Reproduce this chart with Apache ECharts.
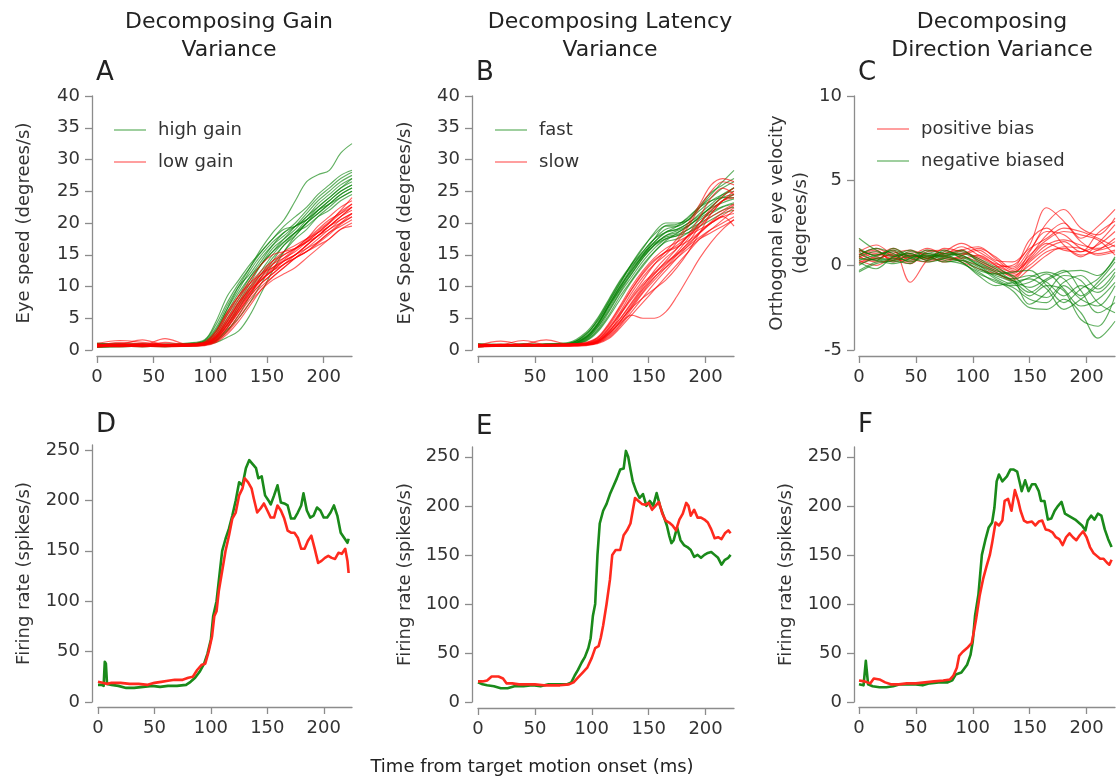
<!DOCTYPE html>
<html><head><meta charset="utf-8">
<script src="https://cdn.jsdelivr.net/npm/echarts@6/dist/echarts.min.js"></script>
<style>html,body{margin:0;padding:0;background:#fff}#c{width:1116px;height:779px}</style>
</head><body><div id="c"></div>
<script>
// ---------- time grids (ms) ----------
const T_AB = [0,20,40,60,80,95,105,115,125,135,145,155,165,175,185,195,205,215,225];
const T_C = [0,15,30,45,60,75,90,105,120,135,150,165,180,195,210,225];

// ---------- Panel A: eye speed, gain variance ----------
const A_high = [
 [0.8,0.9,0.7,0.8,0.9,1.2,3,6.5,10,13,16,18.5,20.5,23.5,26.5,27.6,28.3,31,32.5],
 [0.6,0.7,0.8,0.6,0.8,1.5,4,7.5,10.5,13,15.5,17.5,19.5,21,22.5,24.5,26,27.5,28.3],
 [1.0,0.9,0.8,0.9,1.0,1.3,3.2,6.5,9.5,12.5,15,17,18.5,20,22,24,25.5,27,28],
 [0.5,0.6,0.7,0.7,0.8,1.1,2.5,5.5,8.5,11.5,14,16.5,18.5,19.5,21,23,24.5,26,27],
 [0.7,0.8,0.6,0.8,0.9,1.0,2.0,4.5,7.5,10.5,13.5,16,17.5,19,21,22.5,24,25.5,26.5],
 [0.9,1.0,0.9,0.8,1.0,1.4,3.5,7,10,12,14.5,16.5,18,19.5,20.5,22,23.5,25,26],
 [0.4,0.5,0.6,0.5,0.7,0.9,1.8,4,7,10,12.5,15,17,18.5,20,21.5,23,24.5,25.5],
 [0.8,0.7,0.8,0.9,0.8,1.0,1.5,3.5,6.5,9.5,12,14.5,16.5,18.5,20.5,22.5,24,25.5,27],
 [0.6,0.8,0.7,0.6,0.7,0.9,1.4,3,5.5,8.5,11.5,14,16.5,18,20,22,23.5,25,26],
 [1.1,0.9,1.0,0.9,1.1,1.6,4.5,8.5,11,13.5,15.5,17.5,19,19.5,20.5,22,23,24,25],
 [0.5,0.6,0.5,0.7,0.6,0.8,1.2,2,3,5.5,9,12.5,15.5,18,20,21.5,23,24.5,25.5],
 [0.7,0.6,0.7,0.8,0.9,1.2,2.8,6,9,11.5,13.5,15.5,17,18.5,19.5,21,22,23.5,24.5],
 [0.9,0.8,0.9,0.7,0.8,1.1,2.2,5,8,11,13.5,15.5,17.5,19.5,21.5,23.5,25,26.5,27.5],
 [0.6,0.7,0.6,0.7,0.8,1.0,1.6,3.2,5,7.5,10.5,13.5,15.5,17.5,19,21,22.5,24,25]
];
const A_low = [
 [0.6,1.2,0.9,0.7,0.8,1.0,2.2,4.5,7.5,10,12,13.5,14.5,15.5,17,18.5,20,22,24],
 [0.8,0.9,1.6,0.8,0.7,0.9,1.8,4,6.5,9,11,12.5,14,15,16.5,18,19.5,21,22.5],
 [0.5,0.6,0.7,1.8,0.9,1.1,2.5,5.5,8,10.5,12.5,14,15,16,17,18.5,20,21.5,23],
 [0.7,0.8,0.6,0.7,0.6,0.8,1.5,3.5,6,8.5,10.5,12,13.5,14.5,15.5,17,18.5,20,21.5],
 [0.9,1.0,0.8,0.9,1.0,1.3,3,6,8.5,10.5,12,13,14,15,16.5,18,19.5,20.5,21.5],
 [0.6,0.7,0.8,0.6,0.7,0.9,1.4,3,5.5,8,10,11.5,13,14.5,16,17.5,19,20,21],
 [1.0,1.5,1.2,0.9,0.8,1.0,2,4.5,7,9.5,11.5,13,14.5,16,17.5,19,20.5,21.5,22.5],
 [0.5,0.6,0.5,0.7,0.6,0.7,1.2,2.5,4.5,7,9.5,11.5,13,14.5,15.5,16.5,17.5,19,20],
 [0.8,0.7,0.9,0.8,0.9,1.1,2.4,5,7.5,9.5,11,12.5,14,15,16,17,18.5,19.5,20.5],
 [0.7,0.8,0.7,1.2,0.8,1.0,1.9,4,6.5,9,11.5,13.5,15,16,17.5,19.5,21,22.5,23.5],
 [0.6,0.5,0.6,0.6,0.7,0.8,1.3,2.8,5,7.5,9.5,11,12,13,14.5,16,17.5,19,19.5],
 [0.9,0.8,1.0,0.9,0.8,1.2,2.8,5.8,8.5,11,13.5,15,15.5,16,17,18,19.5,21,22],
 [0.5,0.7,0.6,0.5,0.6,0.8,1.6,3.5,6,8.5,10.5,12,13.5,15,16.5,18,19,20.5,21.5],
 [0.8,0.9,0.8,0.7,0.9,1.0,2.1,4.8,7.2,9.8,12,14,15.5,16.5,17.5,18.5,19.5,21,22.5],
 [0.6,0.8,0.9,0.8,0.7,0.9,1.7,3.8,6.2,8.8,11,12.8,14.2,15.8,17.2,18.8,20.2,21.8,23],
 [0.7,0.6,0.8,0.7,0.8,1.0,2.0,4.2,6.8,9.2,11.2,12.5,13.5,14.5,15.5,16.8,18.2,19.8,21]
];

// ---------- Panel B: eye speed, latency variance ----------
const B_fast = [
 [0.7,0.8,0.6,0.9,1.0,2.5,4.5,7.5,10.5,13.5,16,18.5,20,20,20.5,22.5,24.5,26.5,28.3],
 [0.5,0.7,0.8,0.7,0.9,2.0,4,7,10,12.5,15,17.5,19.5,19.5,20.5,22,23.5,24.5,25],
 [0.9,0.8,0.9,1.0,1.2,2.8,5,8,11,13.5,15.5,17.5,18.5,19,20,21.5,23,24.5,25.5],
 [0.6,0.6,0.7,0.8,0.9,1.8,3.5,6.5,9.5,12,14.5,16.5,18,18.5,19.5,21,22.5,24,24.5],
 [0.8,0.9,0.8,0.7,1.0,2.2,4.2,7.2,10.2,13,15.5,17.5,19,19.5,20.5,22.5,24,25.5,26.5],
 [0.7,0.6,0.9,0.8,0.8,1.6,3.2,6,9,11.5,14,16,17.5,18,19,20.5,21.5,22.5,23],
 [1.0,0.8,0.7,0.9,1.1,2.4,4.8,7.8,10.8,13.2,15.2,16.8,17.8,18.2,19,20,21,22,22.5],
 [0.5,0.7,0.6,0.7,0.8,1.5,3,5.5,8.5,11,13.5,15.5,17,17.5,18.5,20,22,23.5,24.5],
 [0.8,0.7,0.8,0.9,0.9,2,3.8,6.8,9.8,12.8,15,17,18.5,19.5,21,22.5,23.5,24,24],
 [0.6,0.8,0.7,0.6,0.8,1.7,3.6,6.2,9.2,12,14.5,16.5,17.5,18,18.5,19.5,20.5,21.5,22],
 [0.9,0.9,1.0,0.8,1.0,2.6,4.6,7.6,10.6,13.6,16.2,18.2,19.6,19.8,20.8,22.8,24.8,26,27],
 [0.7,0.6,0.7,0.8,0.9,1.9,3.9,6.9,9.6,12.3,14.8,17,18.6,19,20,21.2,22.4,23.2,23.8],
 [0.6,0.7,0.8,0.7,0.8,1.4,2.8,5.2,8,10.8,13.2,15.4,17.2,18.4,19.6,21,22.6,24.2,25.6],
 [0.8,0.8,0.6,0.9,1.0,2.1,4.1,7.1,10,12.6,14.8,16.6,18,18.8,19.6,20.8,21.8,22.6,23.2]
];
const B_slow = [
 [0.6,0.8,1.5,0.8,0.7,0.9,1.3,2.8,5.5,8.5,11,13.5,15.5,17.5,20,23,26,27,26.5],
 [0.8,0.7,0.9,1.6,0.9,1.0,1.6,3.5,6,9,11.5,13.5,15,17,19.5,22.5,25,26.5,26],
 [0.5,0.6,0.7,0.6,0.7,0.8,1.1,2.2,4,6.5,9,11,13,15,17,19.5,21.5,23.5,25],
 [0.7,1.4,0.8,0.7,0.8,0.9,1.4,3,5,7.5,10,12.5,14.5,16,18,20,22,23.5,24],
 [0.9,0.8,0.9,0.9,1.0,1.1,1.8,3.8,6.5,9.5,12,14,15.5,16.5,18,19.5,21,22,23],
 [0.6,0.7,0.6,0.8,0.6,0.7,1.0,1.8,3.5,5.5,7.5,9.5,11.5,13.5,15.5,17.5,19,20.5,22],
 [0.8,0.9,0.8,0.7,0.9,1.0,1.5,3.2,5.8,8.2,10.5,12.2,13.8,15.2,16.8,18.4,20,21.2,22.4],
 [0.5,0.6,0.8,0.6,0.7,0.8,1.2,2.5,4.5,7,9.5,11.5,13,14.5,16,17.5,18.5,19.5,20.5],
 [0.7,0.8,0.7,0.9,0.8,0.9,1.3,2.6,4.2,5.5,5,5,6,8.5,11.5,14.5,17,19,20.5],
 [0.9,0.7,0.9,0.8,0.9,1.2,2,4.2,7,10,12.5,14.5,16,17,18,19,20,21,21.5],
 [0.6,0.7,0.6,0.7,0.6,0.8,1.2,2.4,4.4,6.8,9.2,11.4,13.4,15.4,17.6,20,22.4,24.2,25.5],
 [0.8,0.6,0.8,0.8,0.8,1.0,1.6,3.4,5.6,8,10.2,12,13.6,15,16.4,17.8,19,20,21],
 [0.7,0.9,0.7,0.6,0.7,0.9,1.4,2.9,4.9,7.3,9.7,11.9,14,16,18.2,21,24,25.5,24.5],
 [0.5,0.7,0.8,0.7,0.8,0.8,1.1,2,3.8,6,8.3,10.5,12.5,14.5,16.5,18.5,20,21,19.5],
 [0.9,0.8,0.7,0.8,0.9,1.1,1.9,4,6.8,9.6,12.2,14.2,15.4,16.2,17.2,18.6,20.2,21.6,22.8],
 [0.6,0.8,0.9,0.7,0.8,0.9,1.3,2.7,4.6,6.6,8.2,9.6,11,13,15.5,18.5,21.5,23.5,24.5]
];

// ---------- Panel C: orthogonal eye velocity ----------
const C_pos = [
 [0.5,0.8,0.3,0.6,0.4,0.7,0.9,0.3,-0.2,-0.5,0.8,2.5,3.3,2.2,1.8,2.8],
 [0.8,1.2,0.6,0.2,0.7,0.5,0.4,0.6,0.0,-0.7,0.5,1.8,2.5,1.6,2.3,3.3],
 [0.2,0.5,0.9,-1.0,0.3,0.8,1.3,0.8,0.2,-0.4,0.3,1.2,1.5,1.2,1.0,1.4],
 [1.0,0.4,0.7,0.9,0.5,0.3,0.6,1.0,0.5,-0.2,0.9,2.0,1.8,1.0,0.7,0.9],
 [0.6,0.9,0.2,0.5,1.0,0.6,0.2,-0.2,-0.5,-0.8,0.2,1.0,1.4,0.8,1.2,2.0],
 [0.3,0.0,0.5,0.7,0.4,1.0,0.8,0.4,-0.1,0.0,1.2,3.4,2.6,1.4,0.9,1.2],
 [0.9,0.6,1.0,0.4,0.2,0.5,0.9,1.1,0.4,-0.3,0.6,1.5,2.0,1.8,1.5,0.6],
 [0.4,0.7,0.4,0.8,0.6,0.2,0.5,0.2,-0.3,-0.6,0.0,0.8,1.0,0.6,0.9,1.6],
 [0.7,0.3,0.8,0.3,0.9,0.7,1.1,0.6,0.1,-0.1,1.5,2.2,1.2,0.5,1.3,2.4],
 [0.1,0.4,0.6,0.6,0.3,0.4,0.3,0.0,-0.4,-0.9,-0.2,0.6,1.1,1.0,0.6,0.8],
 [0.6,1.0,0.5,0.1,0.8,0.9,0.6,0.9,0.3,0.2,1.0,1.6,2.2,2.0,1.6,1.1],
 [0.5,0.2,0.3,0.5,0.5,0.6,0.7,0.5,0.0,-0.4,0.4,1.3,0.9,0.8,1.9,2.6]
];
const C_neg = [
 [1.6,0.9,0.5,0.7,0.3,0.6,0.2,-0.5,-0.9,-1.5,-2.5,-2.6,-2.0,-2.8,-4.3,-3.3],
 [0.3,0.6,0.8,0.4,0.7,0.5,0.3,-0.2,-0.6,-1.0,-1.8,-1.2,-1.5,-3.2,-3.6,-1.8],
 [0.0,0.4,0.2,0.6,0.5,0.8,0.6,0.1,-0.4,-0.9,-1.3,-0.8,-0.3,-1.5,-2.8,-2.2],
 [0.8,0.3,1.0,0.5,0.2,0.4,0.7,0.3,-0.2,-0.8,-0.6,-1.0,-1.8,-1.2,-1.6,-0.6],
 [-0.3,0.2,0.4,0.3,0.6,0.3,0.1,-0.4,-1.0,-1.3,-2.0,-2.2,-1.2,-2.0,-2.4,-1.2],
 [0.5,0.8,0.6,0.9,0.4,0.7,0.5,0.0,-0.7,-1.1,-0.7,-0.4,-0.8,-1.8,-1.0,0.2],
 [1.0,0.5,0.3,0.1,0.8,0.6,0.9,0.2,-0.3,-0.6,-1.5,-1.9,-1.0,-0.6,-1.4,-0.4],
 [0.2,-0.2,0.5,0.7,0.3,0.9,0.4,-0.1,-0.8,-1.2,-1.0,-0.5,-1.4,-2.4,-2.0,-1.0],
 [0.6,1.0,0.7,0.2,0.5,0.2,0.3,-0.3,-0.5,-0.4,-0.3,-1.2,-2.2,-1.4,-0.8,0.4],
 [-0.4,0.1,0.3,0.8,0.7,0.5,0.8,0.4,-0.1,-0.7,-2.3,-1.6,-0.6,-0.9,-2.2,-2.8],
 [0.9,0.6,0.9,0.5,0.6,0.4,0.2,-0.6,-1.2,-1.0,-0.8,-1.4,-2.6,-2.0,-1.2,-0.2],
 [0.4,0.3,0.1,0.4,0.9,0.7,0.6,0.0,-0.5,-0.9,-1.6,-0.9,-0.4,-0.3,-0.6,0.5]
];

// ---------- Panels D-F: firing rate [time ms, spikes/s] ----------
const D_green = [[0,17],[3,17],[5,16],[6,40],[7,38],[8,18],[12,17],[18,16],[25,14],[32,14],[40,15],[48,16],[55,15],[62,16],[70,16],[78,17],[82,20],[86,24],[90,30],[94,38],[97,48],[100,62],[102,85],[105,100],[108,130],[110,150],[113,162],[116,172],[119,185],[122,200],[125,218],[128,215],[131,232],[134,240],[137,236],[140,232],[142,222],[145,224],[148,205],[151,200],[153,196],[156,205],[159,215],[162,198],[165,197],[168,195],[171,182],[174,182],[177,188],[180,195],[182,207],[185,190],[188,183],[191,185],[194,193],[197,190],[200,183],[203,183],[206,188],[209,195],[212,185],[215,168],[218,163],[221,158],[222,162]];
const D_red = [[0,20],[4,19],[8,18],[12,19],[20,19],[28,18],[36,18],[44,17],[50,19],[56,20],[62,21],[68,22],[75,22],[80,24],[84,25],[88,32],[92,37],[95,38],[98,50],[101,65],[103,85],[105,90],[107,110],[110,130],[113,150],[116,165],[119,182],[122,188],[125,205],[128,212],[130,222],[133,218],[136,212],[138,202],[141,188],[144,192],[147,197],[150,190],[153,183],[156,183],[159,195],[162,190],[165,182],[168,170],[171,168],[174,168],[177,163],[180,152],[183,152],[186,160],[189,165],[192,152],[195,138],[198,140],[201,143],[204,145],[207,143],[210,142],[213,148],[216,147],[219,152],[221,140],[222,128]];
const E_green = [[0,20],[4,18],[8,17],[14,16],[20,14],[26,14],[32,16],[40,16],[48,17],[55,16],[62,18],[70,18],[78,18],[82,20],[85,27],[88,33],[91,40],[94,46],[97,55],[99,65],[101,88],[103,100],[105,150],[107,182],[110,195],[113,202],[116,212],[119,220],[122,228],[125,237],[128,238],[130,256],[132,250],[134,237],[136,225],[139,215],[142,208],[145,212],[148,200],[151,205],[154,200],[157,213],[160,200],[163,190],[166,180],[168,170],[170,162],[172,165],[175,178],[178,165],[181,160],[184,158],[187,155],[190,148],[193,150],[196,147],[199,150],[202,152],[205,153],[208,150],[211,147],[214,140],[217,145],[220,147],[222,150]];
const E_red = [[0,21],[4,21],[8,22],[12,26],[18,26],[22,24],[25,19],[30,19],[36,18],[42,18],[50,18],[58,17],[65,17],[72,17],[80,18],[84,20],[88,25],[92,30],[96,35],[100,45],[103,55],[106,57],[108,66],[110,78],[113,100],[116,125],[118,150],[121,155],[125,155],[128,170],[131,175],[134,182],[136,195],[138,208],[141,205],[144,202],[147,201],[150,203],[153,196],[156,200],[159,204],[162,192],[165,185],[168,183],[171,180],[174,175],[177,186],[180,192],[183,203],[185,200],[187,190],[190,196],[193,188],[196,188],[199,186],[202,183],[205,176],[208,167],[211,168],[214,166],[217,172],[220,175],[222,172]];
const F_green = [[0,18],[4,17],[6,42],[7,40],[8,18],[12,16],[18,15],[24,15],[30,16],[36,18],[44,18],[50,18],[56,17],[62,19],[70,20],[78,20],[82,22],[85,28],[90,30],[95,38],[98,48],[100,62],[102,88],[105,110],[108,150],[111,165],[114,178],[117,183],[119,198],[121,225],[123,232],[126,225],[130,230],[133,237],[136,237],[139,235],[141,225],[143,215],[146,226],[149,215],[152,222],[155,222],[158,215],[160,205],[163,205],[166,186],[169,187],[172,195],[175,200],[178,204],[181,192],[184,190],[187,188],[190,186],[193,183],[196,180],[199,175],[201,185],[204,190],[207,186],[210,192],[213,190],[216,176],[219,166],[222,158]];
const F_red = [[0,22],[5,21],[10,19],[13,24],[18,23],[23,20],[28,18],[35,18],[42,19],[50,19],[58,20],[66,21],[74,22],[80,23],[83,27],[86,35],[88,47],[91,51],[95,55],[99,60],[101,72],[103,85],[106,108],[109,125],[112,138],[115,150],[117,162],[120,183],[123,180],[126,185],[128,205],[131,207],[134,195],[137,216],[140,205],[142,195],[145,185],[148,183],[152,184],[155,180],[158,184],[161,185],[164,176],[167,175],[170,173],[173,168],[176,166],[179,160],[182,168],[185,172],[188,168],[191,165],[194,170],[197,174],[200,168],[203,158],[206,152],[209,149],[212,146],[215,146],[218,142],[220,140],[222,145]];

// ---------- tick labels ----------
const X_TICKS = [0,50,100,150,200];
const X_TICKS_B = [50,100,150,200];
const Y_SPEED = [0,5,10,15,20,25,30,35,40];
const Y_ORTH = [-5,0,5,10];
const Y_RATE = [0,50,100,150,200,250];

// ---------- styling / layout ----------
const FF = 'DejaVu Sans';
const AX = '#8c8c8c';
const TXT = '#333';
const G_TR = 'rgba(0,128,0,0.62)', R_TR = 'rgba(255,0,0,0.62)';
const G_LG = 'rgba(0,128,0,0.5)', R_LG = 'rgba(255,0,0,0.5)';
const G_TH = '#1a8a1a', R_TH = '#ff2a1e';

const grids = [
  {left:97, top:96, width:255, height:254},
  {left:478, top:96, width:256, height:254},
  {left:859, top:96, width:256, height:254},
  {left:98, top:445, width:254, height:257},
  {left:478, top:447, width:256, height:255},
  {left:859, top:447, width:256, height:255}
];

function xAx(gi, labels, offset){
  return {type:'value', gridIndex:gi, min:0, max:225, interval:50, offset:offset,
    axisLine:{show:true, onZero:false, lineStyle:{color:AX, width:1.3}},
    axisTick:{show:true, length:7, customValues:X_TICKS, lineStyle:{color:AX, width:1.3}},
    axisLabel:{customValues:labels, margin:12, fontSize:18, color:TXT, fontFamily:FF},
    splitLine:{show:false}};
}
function yAx(gi, min, max, interval, ticks, offset, name, gap){
  return {type:'value', gridIndex:gi, min:min, max:max, interval:interval, offset:offset,
    name:name, nameLocation:'middle', nameGap:gap, nameRotate:90,
    nameTextStyle:{fontSize:18, color:TXT, fontFamily:FF, lineHeight:24},
    axisLine:{show:true, onZero:false, lineStyle:{color:AX, width:1.3}},
    axisTick:{show:true, length:7, customValues:ticks, lineStyle:{color:AX, width:1.3}},
    axisLabel:{customValues:ticks, margin:12, fontSize:18, color:TXT, fontFamily:FF},
    splitLine:{show:false}};
}

const xAxes = [xAx(0,X_TICKS,6), xAx(1,X_TICKS_B,6), xAx(2,X_TICKS,6), xAx(3,X_TICKS,5), xAx(4,X_TICKS,6), xAx(5,X_TICKS,5)];
const yAxes = [
  yAx(0,0,40,5,Y_SPEED,5,'Eye speed (degrees/s)',56),
  yAx(1,0,40,5,Y_SPEED,6,'Eye Speed (degrees/s)',55),
  yAx(2,-5,10,5,Y_ORTH,5,'Orthogonal eye velocity\n(degrees/s)',41),
  yAx(3,0,255,50,Y_RATE,6,'Firing rate (spikes/s)',56),
  yAx(4,0,260,50,Y_RATE,6,'Firing rate (spikes/s)',55),
  yAx(5,0,260,50,Y_RATE,5,'Firing rate (spikes/s)',56)
];

const series = [];
function traces(group, times, gi, name, color, lg){
  group.forEach(function(tr){
    series.push({type:'line', name:name, xAxisIndex:gi, yAxisIndex:gi,
      data: times.map(function(t,i){return [t, tr[i]];}),
      showSymbol:false, smooth:0.35, clip:false, silent:true,
      lineStyle:{width:1.15, color:color}, itemStyle:{color:lg}});
  });
}
function thick(pairs, gi, color){
  series.push({type:'line', xAxisIndex:gi, yAxisIndex:gi, data:pairs,
    showSymbol:false, clip:false, silent:true,
    lineStyle:{width:2.6, color:color, join:'round'}, itemStyle:{color:color}});
}
traces(A_high, T_AB, 0, 'high gain', G_TR, G_LG);
traces(A_low, T_AB, 0, 'low gain', R_TR, R_LG);
traces(B_fast, T_AB, 1, 'fast', G_TR, G_LG);
traces(B_slow, T_AB, 1, 'slow', R_TR, R_LG);
traces(C_pos, T_C, 2, 'positive bias', R_TR, R_LG);
traces(C_neg, T_C, 2, 'negative biased', G_TR, G_LG);
thick(D_green, 3, G_TH); thick(D_red, 3, R_TH);
thick(E_green, 4, G_TH); thick(E_red, 4, R_TH);
thick(F_green, 5, G_TH); thick(F_red, 5, R_TH);

function leg(names, left, top){
  return {data:names, left:left, top:top, orient:'vertical', itemGap:14,
    icon:'rect', itemWidth:32, itemHeight:1.5, selectedMode:false,
    textStyle:{fontSize:18, color:TXT, fontFamily:FF, padding:[0,0,0,7]}};
}

function txt(s, x, y, size, align){
  return {type:'text', x:x, y:y, silent:true,
    style:{text:s, fill:'#222', font:size+'px "'+FF+'"', align:align||'center', verticalAlign:'middle', lineHeight:28}};
}

const chart = echarts.init(document.getElementById('c'), null, {renderer:'canvas'});
chart.setOption({
  animation:false,
  backgroundColor:'#fff',
  grid:grids,
  xAxis:xAxes,
  yAxis:yAxes,
  legend:[leg(['high gain','low gain'],109,116), leg(['fast','slow'],490,116), leg(['positive bias','negative biased'],872,115)],
  series:series,
  graphic:[
    txt('Decomposing Gain\nVariance',229,36,22),
    txt('Decomposing Latency\nVariance',610,36,22),
    txt('Decomposing\nDirection Variance',992,36,22),
    txt('A',96,73,26,'left'), txt('B',476,73,26,'left'), txt('C',858,73,26,'left'),
    txt('D',96,425,26,'left'), txt('E',476,427,26,'left'), txt('F',858,425,26,'left'),
    txt('Time from target motion onset (ms)',532,767,18)
  ]
});
</script></body></html>
